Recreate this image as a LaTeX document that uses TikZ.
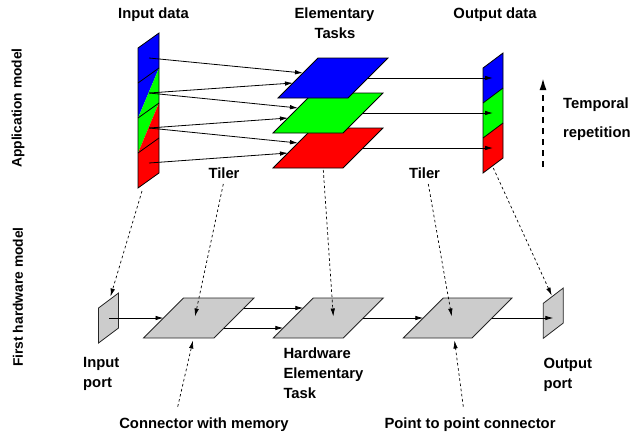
\documentclass[tikz,border=0pt]{standalone}
\usepackage{fontspec}
\setmainfont{Liberation Sans}
\usetikzlibrary{arrows.meta}
\definecolor{hwgray}{RGB}{204,204,204}
\definecolor{pblue}{RGB}{0,0,255}
\definecolor{pgreen}{RGB}{0,255,0}
\definecolor{pred}{RGB}{255,0,0}
\tikzset{
  lbl/.style={font=\bfseries\fontsize{14.8}{20}\selectfont, inner sep=0pt},
  sidelbl/.style={font=\bfseries\fontsize{13.8}{16}\selectfont, inner sep=0pt, rotate=90},
  shapeline/.style={draw=black, line width=0.8pt, line join=miter},
  flow/.style={line width=0.8pt, -{Latex[length=8pt,width=4.5pt]}},
  mapping/.style={line width=0.7pt, dash pattern=on 2.6pt off 2.6pt, -{Latex[length=8pt,width=4.5pt]}},
  temporal/.style={line width=1.8pt, dash pattern=on 6pt off 5pt, -{Latex[length=12pt,width=7pt]}}
}
\begin{document}
\begin{tikzpicture}[x=1pt,y=-1pt]
\useasboundingbox (0,0) rectangle (644,434);

% ---------- side labels
\node[sidelbl] (appmodel) at (18,108) {Application model};
\node[sidelbl] (hwmodel) at (18,297) {First hardware model};

% ---------- titles
\node[lbl, anchor=base] (tin) at (153.5,18.5) {Input data};
\node[lbl, anchor=base] (tel) at (334.5,18.5) {Elementary};
\node[lbl, anchor=base] (tta) at (335,38.5) {Tasks};
\node[lbl, anchor=base] (tout) at (495,18.5) {Output data};

% ---------- input data
\coordinate (i0l) at (138,48);  \coordinate (i0r) at (159,33);
\coordinate (i1l) at (138,83);  \coordinate (i1r) at (159,68);
\coordinate (i2l) at (138,118); \coordinate (i2r) at (159,103);
\coordinate (i3l) at (138,153); \coordinate (i3r) at (159,138);
\coordinate (i4l) at (138,188); \coordinate (i4r) at (159,173);
\fill[pblue]  (i0l)--(i0r)--(i1r)--(i2l)--cycle;
\fill[pgreen] (i1r)--(i2r)--(i3l)--(i2l)--cycle;
\fill[pred]   (i2r)--(i4r)--(i4l)--(i3l)--cycle;
\draw[shapeline] (i0l)--(i0r)--(i4r)--(i4l)--cycle;
\draw[line width=0.8pt] (i1l)--(i1r) (i2l)--(i2r) (i3l)--(i3r);

% ---------- elementary tasks
\draw[shapeline, fill=pred]   (273,168)--(313,128)--(383,128)--(343,168)--cycle;
\draw[shapeline, fill=pgreen] (273,133)--(313,93)--(383,93)--(343,133)--cycle;
\draw[shapeline, fill=pblue]  (278,98)--(318,58)--(388,58)--(348,98)--cycle;

% ---------- output data
\fill[pblue]  (483,68)--(503,53)--(503,88)--(483,103)--cycle;
\fill[pgreen] (483,103)--(503,88)--(503,123)--(483,138)--cycle;
\fill[pred]   (483,138)--(503,123)--(503,158)--(483,173)--cycle;
\draw[shapeline] (483,68)--(503,53)--(503,158)--(483,173)--cycle;
\draw[line width=0.8pt] (483,103)--(503,88) (483,138)--(503,123);

% ---------- arrows input -> tasks
\coordinate (s1) at (149,58);  \coordinate (s2) at (149,93);
\coordinate (s3) at (149,128); \coordinate (s4) at (149,163);
\coordinate (t1) at (303,73);  \coordinate (t2) at (293,83);
\coordinate (t3) at (298,108); \coordinate (t4) at (288,118);
\coordinate (t5) at (298,143); \coordinate (t6) at (288,153);
\draw[flow] (s1) -- (t1);
\draw[flow] (s2) -- (t2);
\draw[flow] (s2) -- (t3);
\draw[flow] (s3) -- (t4);
\draw[flow] (s3) -- (t5);
\draw[flow] (s4) -- (t6);

% ---------- arrows tasks -> output
\coordinate (ob) at (368,78);  \coordinate (ob2) at (493,78);
\coordinate (og) at (363,113); \coordinate (og2) at (493,113);
\coordinate (orr) at (363,148); \coordinate (orr2) at (493,148);
\draw[flow] (ob) -- (ob2);
\draw[flow] (og) -- (og2);
\draw[flow] (orr) -- (orr2);

% ---------- temporal repetition
\coordinate (tr1) at (543,167);
\coordinate (tr2) at (543,78);
\draw[temporal] (tr1) -- (tr2);
\node[lbl, anchor=base west] (temp) at (563,108) {Temporal};
\node[lbl, anchor=base west] (rep) at (563,137.5) {repetition};

% ---------- tiler labels
\node[lbl, anchor=base] (tiler1) at (224,178) {Tiler};
\node[lbl, anchor=base] (tiler2) at (424.5,178) {Tiler};

% ---------- hardware model
\draw[shapeline, draw=black!85, fill=hwgray] (98.5,308)--(118.5,293)--(118.5,328)--(98.5,343)--cycle;
\draw[shapeline, draw=black!85, fill=hwgray] (143.5,338)--(183.5,298)--(254,298)--(214,338)--cycle;
\draw[shapeline, draw=black!85, fill=hwgray] (273.3,338)--(313.3,298)--(383.3,298)--(343.3,338)--cycle;
\draw[shapeline, draw=black!85, fill=hwgray] (403.3,338)--(443.3,298)--(512,298)--(472,338)--cycle;
\draw[shapeline, draw=black!85, fill=hwgray] (543.3,303.3)--(563.3,288)--(563.3,323)--(543.3,338.3)--cycle;

\coordinate (ip) at (109,318);  \coordinate (cmL) at (163.5,318);
\coordinate (cmR1) at (244,308); \coordinate (hwL1) at (303.3,308);
\coordinate (cmR2) at (224,328); \coordinate (hwL2) at (283.3,328);
\coordinate (hwR) at (363.3,318); \coordinate (ppL) at (423.3,318);
\coordinate (ppR) at (492,318);  \coordinate (op) at (553.3,318);
\draw[flow] (ip) -- (cmL);
\draw[flow] (cmR1) -- (hwL1);
\draw[flow] (cmR2) -- (hwL2);
\draw[flow] (hwR) -- (ppL);
\draw[flow] (ppR) -- (op);

% ---------- hardware labels
\node[lbl, anchor=north west, align=left] (lip) at (83,357.5) {Input\\port};
\node[lbl, anchor=north west, align=left] (lhw) at (283.3,347.5) {Hardware\\Elementary\\Task};
\node[lbl, anchor=north west, align=left] (lop) at (543.3,357.5) {Output\\port};
\node[lbl, anchor=base] (lcm) at (204,428) {Connector with memory};
\node[lbl, anchor=base] (lpp) at (470,428) {Point to point connector};

% ---------- mapping (dashed) arrows
\coordinate (m1a) at (142,191);   \coordinate (m1b) at (110.5,296.5);
\coordinate (m2a) at (223.3,184); \coordinate (m2b) at (195,316.5);
\coordinate (m3a) at (323.3,170); \coordinate (m3b) at (333.3,316.5);
\coordinate (m4a) at (428.3,184); \coordinate (m4b) at (451.7,316.5);
\coordinate (m5a) at (493.3,168); \coordinate (m5b) at (551.7,295.5);
\coordinate (m6a) at (177.7,406.7); \coordinate (m6b) at (193,340.5);
\coordinate (m7a) at (463.3,406.7); \coordinate (m7b) at (454.5,340.5);
\draw[mapping] (m1a) -- (m1b);
\draw[mapping] (m2a) -- (m2b);
\draw[mapping] (m3a) -- (m3b);
\draw[mapping] (m4a) -- (m4b);
\draw[mapping] (m5a) -- (m5b);
\draw[mapping] (m6a) -- (m6b);
\draw[mapping] (m7a) -- (m7b);
\end{tikzpicture}
\end{document}
